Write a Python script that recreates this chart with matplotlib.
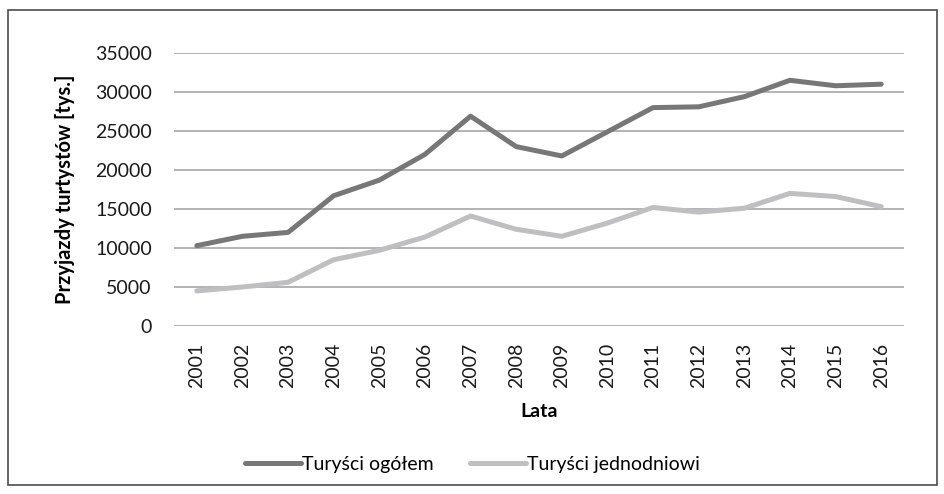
import matplotlib
matplotlib.use("Agg")
import matplotlib.pyplot as plt
from matplotlib.patches import Rectangle

years = [str(y) for y in range(2001, 2017)]
ogolem = [10300, 11500, 12000, 16700, 18700, 22000, 26900, 23000,
          21800, 24900, 28000, 28100, 29400, 31500, 30800, 31000]
jednodniowi = [4500, 5000, 5600, 8500, 9700, 11400, 14100, 12400,
               11500, 13200, 15200, 14600, 15100, 17000, 16600, 15300]

plt.rcParams['font.family'] = ['Lato', 'DejaVu Sans']

W, H = 945, 494
fig = plt.figure(figsize=(W / 100, H / 100), dpi=100)
ax = fig.add_axes([174 / W, 1 - 326 / H, 730 / W, 273 / H])

x = list(range(len(years)))
ax.plot(x, ogolem, color='#777777', lw=3.6, label='Turyści ogółem', solid_capstyle='round')
ax.plot(x, jednodniowi, color='#bfbfc1', lw=3.6, label='Turyści jednodniowi', solid_capstyle='round')

ax.set_ylim(0, 35000)
ax.set_xlim(-0.5, len(years) - 0.5)
ax.set_yticks(range(0, 35001, 5000))
ax.set_xticks(x)
ax.set_xticklabels(years, rotation=90)
ax.tick_params(length=0, labelsize=14, colors='#1a1a1a')
ax.tick_params(axis='y', pad=16)
ax.tick_params(axis='x', pad=12)
ax.grid(axis='y', color='#a6a6a6', lw=1.2)
ax.set_axisbelow(True)
for s in ax.spines.values():
    s.set_visible(False)

ax.set_ylabel('Przyjazdy turtystów [tys.]', fontsize=14.5, fontweight='bold')
ax.yaxis.set_label_coords((75 - 174) / 730, 0.5)
fig.text(539 / W, 1 - 411 / H, 'Lata', fontsize=14, fontweight='bold', ha='center', va='center')

leg = fig.legend(loc='center left', bbox_to_anchor=(245 / W, 1 - 464 / H), ncol=2,
                 frameon=False, fontsize=14, handlelength=2.9, handletextpad=0.05,
                 columnspacing=1.85, borderpad=0, borderaxespad=0)

fig.patches.append(Rectangle((8 / W, 1 - 485 / H), 929 / W, 475 / H, transform=fig.transFigure,
                             fill=False, edgecolor='#4d4d4d', lw=1.2))

fig.savefig('out.png', dpi=100)
